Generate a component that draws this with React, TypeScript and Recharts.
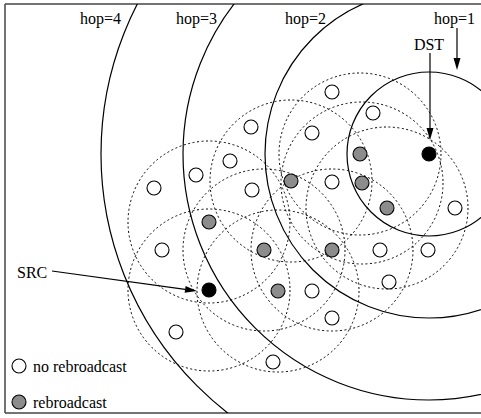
import { ScatterChart, Scatter, XAxis, YAxis, ReferenceLine } from "recharts";

const FONT = '"Liberation Serif", "Times New Roman", Times, serif';
const WIDTH = 481;
const HEIGHT = 418;

// figure coordinates: x to the right, y downwards, 1 unit = 1 px of the frame
const X_DOMAIN: [number, number] = [5, 481];
const Y_DOMAIN: [number, number] = [4, 413];
const UNIT = (WIDTH - X_DOMAIN[0]) / (X_DOMAIN[1] - X_DOMAIN[0]);

const DST: [number, number] = [429, 154];
const SRC: [number, number] = [209, 290];

const HOP_RADII = [82, 164, 246, 328];
const HOP_LABELS = ["hop=1", "hop=2", "hop=3", "hop=4"];
const HOP_LABEL_X = [475, 326, 217, 121];
const HOP_LABEL_Y = 24;

// transmission range of a node
const RANGE = 81;

const REBROADCAST: [number, number][] = [
  [209, 222],
  [264, 250],
  [278, 291],
  [291, 181],
  [332, 250],
  [360, 154],
  [362, 183],
  [387, 208],
];

const NO_REBROADCAST: [number, number][] = [
  [251, 127],
  [230, 161],
  [196, 175],
  [154, 188],
  [252, 190],
  [332, 92],
  [373, 113],
  [312, 133],
  [332, 182],
  [455, 208],
  [162, 250],
  [176, 332],
  [273, 362],
  [380, 250],
  [428, 250],
  [389, 282],
  [312, 291],
  [332, 318],
];

const ARROWS: { from: [number, number]; to: [number, number] }[] = [
  { from: [52, 271], to: [197, 291] },
  { from: [430, 53], to: [430, 140] },
  { from: [457, 28], to: [457, 70] },
];

const NOTES: { x: number; y: number; text: string; anchor: string }[] = [
  { x: 429, y: 50, text: "DST", anchor: "middle" },
  { x: 17, y: 278, text: "SRC", anchor: "start" },
];

const LEGEND_LABELS = ["no rebroadcast", "rebroadcast"];
const LEGEND_FILLS = ["#ffffff", "#8c8c8c"];
const LEGEND_Y = [366, 402];
const LEGEND_MARK_X = 19;
const LEGEND_TEXT_X = 33;

const NODE_R = 7;

const hopRings = HOP_RADII.map((r) => ({ x: DST[0], y: DST[1], r }));
const rangeRings = [SRC, ...REBROADCAST].map(([x, y]) => ({ x, y, r: RANGE }));
const hopLabels = HOP_LABELS.map((text, i) => ({
  x: HOP_LABEL_X[i],
  y: HOP_LABEL_Y,
  text,
  anchor: "end",
}));
const legendMarks = LEGEND_Y.map((y, i) => ({ x: LEGEND_MARK_X, y, fill: LEGEND_FILLS[i] }));
const legendTexts = LEGEND_Y.map((y, i) => ({
  x: LEGEND_TEXT_X,
  y: y + 6,
  text: LEGEND_LABELS[i],
  anchor: "start",
}));
const toPts = (arr: [number, number][]) => arr.map(([x, y]) => ({ x, y }));

const ring = (dashed: boolean) => (p: any) => (
  <circle
    cx={p.cx}
    cy={p.cy}
    r={p.payload.r * UNIT}
    fill="none"
    stroke="#000"
    strokeWidth={dashed ? 1 : 1.2}
    strokeDasharray={dashed ? "2 2.5" : undefined}
  />
);

const node = (fill: string) => (p: any) => (
  <circle
    cx={p.cx}
    cy={p.cy}
    r={NODE_R}
    fill={p.payload.fill ?? fill}
    stroke="#000"
    strokeWidth={1.1}
  />
);

const label = (p: any) => (
  <text
    x={p.cx}
    y={p.cy}
    textAnchor={p.payload.anchor}
    fontFamily={FONT}
    fontSize={16}
    fill="#000"
  >
    {p.payload.text}
  </text>
);

const Arrow = (p: any) => {
  const { x1, y1, x2, y2 } = p;
  const dx = x2 - x1;
  const dy = y2 - y1;
  const len = Math.hypot(dx, dy) || 1;
  const ux = dx / len;
  const uy = dy / len;
  const hl = 12;
  const hw = 3.5;
  const bx = x2 - ux * hl;
  const by = y2 - uy * hl;
  return (
    <g>
      <line x1={x1} y1={y1} x2={bx} y2={by} stroke="#000" strokeWidth={1.2} />
      <polygon
        points={`${x2},${y2} ${bx - uy * hw},${by + ux * hw} ${bx + uy * hw},${by - ux * hw}`}
        fill="#000"
      />
    </g>
  );
};

export default function App() {
  return (
    <div style={{ position: "absolute", left: 0, top: 0, width: WIDTH, height: HEIGHT, overflow: "hidden", background: "#fff" }}>
      <ScatterChart
        width={WIDTH}
        height={HEIGHT}
        margin={{ top: Y_DOMAIN[0], left: X_DOMAIN[0], right: 0, bottom: HEIGHT - Y_DOMAIN[1] }}
      >
        <XAxis type="number" dataKey="x" domain={X_DOMAIN} allowDataOverflow hide />
        <YAxis type="number" dataKey="y" domain={Y_DOMAIN} reversed allowDataOverflow hide />
        <Scatter data={rangeRings} shape={ring(true)} isAnimationActive={false} />
        <Scatter data={hopRings} shape={ring(false)} isAnimationActive={false} />
        <Scatter data={toPts(NO_REBROADCAST)} shape={node("#ffffff")} isAnimationActive={false} />
        <Scatter data={toPts(REBROADCAST)} shape={node("#8c8c8c")} isAnimationActive={false} />
        <Scatter data={toPts([SRC, DST])} shape={node("#000000")} isAnimationActive={false} />
        <Scatter data={legendMarks} shape={node("#ffffff")} isAnimationActive={false} />
        <Scatter data={[...hopLabels, ...NOTES, ...legendTexts]} shape={label} isAnimationActive={false} />
        {ARROWS.map((a, i) => (
          <ReferenceLine
            key={i}
            segment={[
              { x: a.from[0], y: a.from[1] },
              { x: a.to[0], y: a.to[1] },
            ]}
            ifOverflow="visible"
            shape={Arrow}
          />
        ))}
        <ReferenceLine y={Y_DOMAIN[0]} stroke="#444" strokeWidth={1.5} ifOverflow="visible" />
        <ReferenceLine y={Y_DOMAIN[1]} stroke="#444" strokeWidth={1.5} ifOverflow="visible" />
        <ReferenceLine x={X_DOMAIN[0]} stroke="#444" strokeWidth={1.5} ifOverflow="visible" />
      </ScatterChart>
    </div>
  );
}
